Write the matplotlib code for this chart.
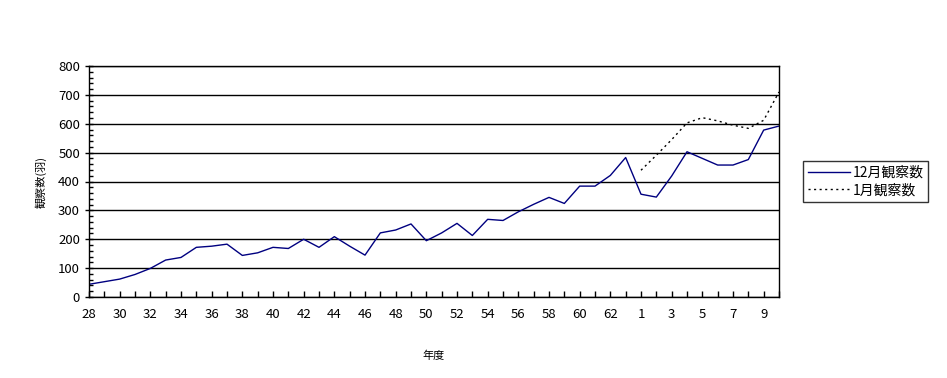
import numpy as np
import matplotlib
matplotlib.use("Agg")
import matplotlib.pyplot as plt
from matplotlib.ticker import MultipleLocator

plt.rcParams['font.family'] = ['Noto Sans CJK JP', 'DejaVu Sans']

# 年度: 昭和28-63, 平成1-10
years = [str(y) for y in range(28, 64)] + [str(y) for y in range(1, 11)]

dec_counts = [44, 53, 62, 78, 99, 128, 137, 172, 176, 183,
              144, 153, 172, 168, 200, 172, 209, 176, 145, 222,
              232, 253, 195, 222, 255, 213, 269, 265, 295, 321,
              345, 324, 384, 384, 421, 483, 356, 346, 419, 503,
              480, 457, 457, 476, 578, 592]

jan_counts = [None] * 36 + [439, 491, 545, 603, 621, 610, 595, 584, 612, 710]

x = np.arange(len(years))
jan = np.array([np.nan if v is None else v for v in jan_counts], dtype=float)

fig = plt.figure(figsize=(9.47, 3.78), dpi=100)
ax = fig.add_axes([89/947, 1-297/378, 690/947, 231/378])

ax.plot(x, dec_counts, color='#000080', lw=1.0, label='12月観察数')
ax.plot(x, jan, color='black', lw=1.0, ls=(0, (1.5, 2.5)), label='1月観察数')

ax.set_xlim(0, len(years) - 1)
ax.set_ylim(0, 800)
ax.yaxis.set_major_locator(MultipleLocator(100))
ax.yaxis.set_minor_locator(MultipleLocator(20))
ax.grid(axis='y', color='black', lw=1.0)
ax.set_axisbelow(True)

ax.set_xticks(x)
ax.set_xticklabels([lab if i % 2 == 0 else '' for i, lab in enumerate(years)])
ax.tick_params(axis='x', direction='in', length=4, width=1, pad=8, labelsize=9.5)
ax.tick_params(axis='y', which='major', direction='inout', length=6, width=1, labelsize=9.5)
ax.tick_params(axis='y', which='minor', direction='in', length=3, width=1)

for s in ax.spines.values():
    s.set_color('black')
    s.set_linewidth(1.0)

ax.set_xlabel('年度', fontsize=8, labelpad=21)
ax.set_ylabel('観察数(羽)', fontsize=8, labelpad=8)

leg = ax.legend(loc='center left', bbox_to_anchor=((803 - 89) / 690, 0.5),
                borderaxespad=0, fontsize=10, frameon=True, fancybox=False,
                edgecolor='black', borderpad=0.35, handlelength=3.0,
                handletextpad=0.2, labelspacing=0.25)
leg.get_frame().set_linewidth(1.0)

fig.savefig('out.png', dpi=100)
